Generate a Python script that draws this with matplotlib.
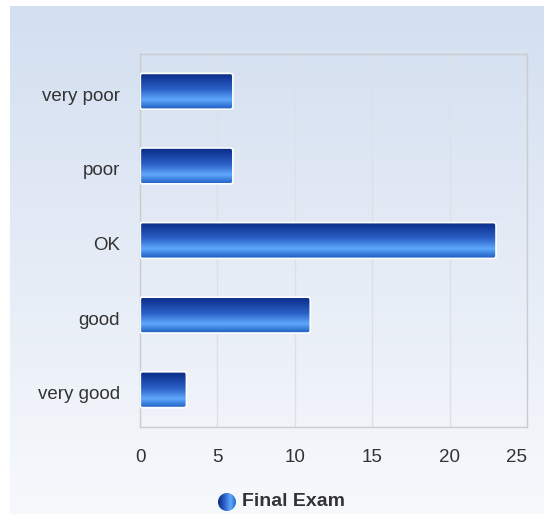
import numpy as np
import matplotlib
matplotlib.use('Agg')
import matplotlib.pyplot as plt
from matplotlib.colors import LinearSegmentedColormap
from matplotlib.patches import FancyBboxPatch
from matplotlib.transforms import ScaledTranslation

categories = ['very poor', 'poor', 'OK', 'good', 'very good']
values = [6, 6, 23, 11, 3]
series_name = 'Final Exam'
xticks = [0, 5, 10, 15, 20, 25]

W, H = 544, 514
TXT = '#333333'
GRID = '#dde0e5'
EDGE = '#cccccc'

plt.rcParams['font.family'] = ['Liberation Sans', 'DejaVu Sans']

bar_cmap = LinearSegmentedColormap.from_list('bar', [
    (0.0, '#0a2a86'), (0.45, '#2a60c6'), (0.74, '#5ea8fb'), (1.0, '#1d5cc2')])
bg_cmap = LinearSegmentedColormap.from_list('bg', ['#d3dff0', '#f7f9fc'])

fig = plt.figure(figsize=(W / 100, H / 100), dpi=100)
fig.patch.set_facecolor('white')

# background gradient panel
bg = fig.add_axes([10 / W, 0, 1 - 10 / W, 1 - 6 / H])
bg.imshow(np.linspace(0, 1, 256).reshape(-1, 1), aspect='auto', cmap=bg_cmap,
          extent=[0, 1, 0, 1])
bg.axis('off')

ax = fig.add_axes([140 / W, 1 - 427 / H, (527 - 140) / W, (427 - 54) / H])
ax.patch.set_alpha(0)
XPAD = 16
ax.set_xticks(xticks)
ax.set_yticks(range(len(categories)))
ax.set_yticklabels(categories)
ax.tick_params(length=0, labelsize=13.5, colors=TXT)
ax.tick_params(axis='y', pad=14.5)
ax.tick_params(axis='x', pad=XPAD)
for s in ax.spines.values():
    s.set_color(EDGE)
    s.set_linewidth(1)
ax.grid(axis='x', color=GRID, linewidth=1)
ax.set_axisbelow(True)

# last x label kept inside the plot width, y labels nudged down a bit
last = ax.get_xticklabels()[-1]
last.set_ha('right')
last.set_transform(ax.get_xaxis_text1_transform(XPAD)[0])
for lab in ax.get_yticklabels():
    lab.set_transform(lab.get_transform() + ScaledTranslation(0, -3 / 100, fig.dpi_scale_trans))

grad = np.linspace(0, 1, 256).reshape(-1, 1)
bh = 0.48
for i, v in enumerate(values):
    patch = FancyBboxPatch((0, i - bh / 2), v, bh,
                           boxstyle='round,pad=0,rounding_size=0.12',
                           mutation_aspect=0.35,
                           facecolor='none', edgecolor='white', linewidth=1.2, zorder=3)
    ax.add_patch(patch)
    im = ax.imshow(grad, aspect='auto', cmap=bar_cmap,
                   extent=[0, v, i + bh / 2, i - bh / 2], zorder=2)
    im.set_clip_path(patch)
ax.set_xlim(0, 25)
ax.set_ylim(len(categories) - 0.5, -0.5)

# legend
lx, ly = 227 / W, 1 - 502 / H
leg = fig.add_axes([lx - 9.5 / W, ly - 9.5 / H, 19 / W, 19 / H])
leg.set_xlim(-1, 1)
leg.set_ylim(-1, 1)
leg.axis('off')
xx, yy = np.meshgrid(np.linspace(-1, 1, 64), np.linspace(-1, 1, 64))
circ_cmap = LinearSegmentedColormap.from_list('c', ['#0a2a86', '#2a60c6', '#5ea8fb', '#1d5cc2'])
lim = leg.imshow((xx + 1) / 2, cmap=circ_cmap, extent=[-1, 1, -1, 1], aspect='auto')
c = plt.Circle((0, 0), 0.95, transform=leg.transData, facecolor='none', edgecolor='none')
leg.add_patch(c)
lim.set_clip_path(c)
fig.text(242 / W, ly, series_name, fontsize=14, fontweight='bold', color=TXT,
         ha='left', va='center')

fig.savefig('out.png', dpi=100)
